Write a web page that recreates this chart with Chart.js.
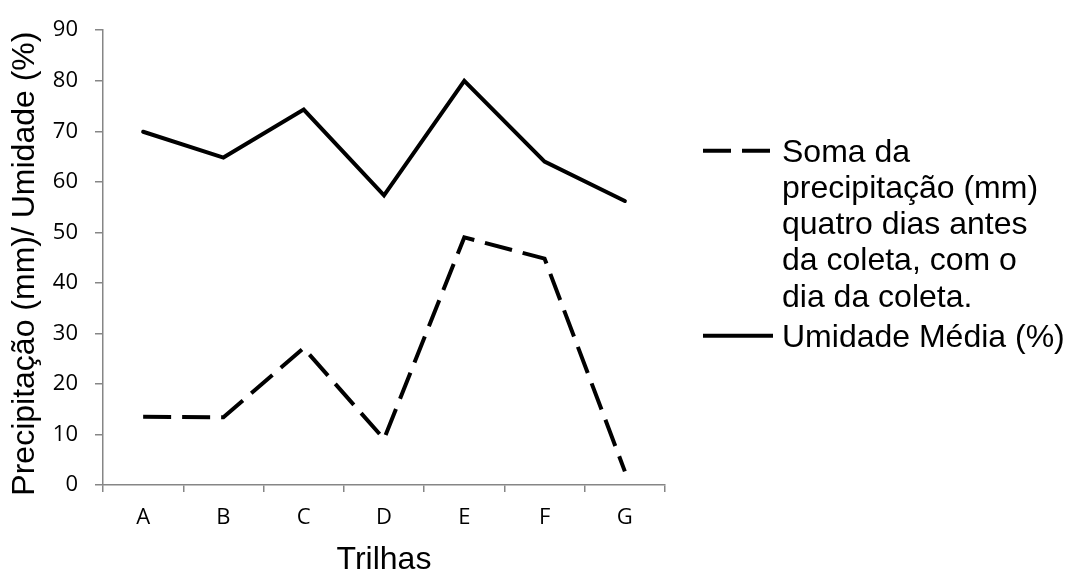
<!DOCTYPE html>
<html>
<head>
<meta charset="utf-8">
<script src="https://cdn.jsdelivr.net/npm/chart.js"></script>
<style>
  html, body { margin: 0; padding: 0; background: #fff; }
  #wrap { width: 1070px; height: 574px; }
</style>
</head>
<body>
<div id="wrap"><canvas id="grafico"></canvas></div>
<script>
const trilhas = ['A', 'B', 'C', 'D', 'E', 'F', 'G'];
const precipitacao = [13.5, 13.4, 27.1, 9.1, 49.0, 44.8, 2.7];
const umidade = [69.9, 64.8, 74.3, 57.3, 80.0, 64.0, 56.2];
const legendaPrecipitacao = ['Soma da', 'precipitação (mm)', 'quatro dias antes', 'da coleta, com o', 'dia da coleta.'];
const legendaUmidade = ['Umidade Média (%)'];
const tituloY = 'Precipitação (mm)/ Umidade (%)';

const axisGray = '#868686';
const tickFont = { family: '"Open Sans", "Noto Sans", sans-serif', size: 22 };
const titleFont = { family: '"Liberation Sans", Arial, sans-serif', size: 32, lineHeight: 0.85 };
const fontTexto = '32px "Liberation Sans", Arial, sans-serif';

// legend drawn by hand so the long label can wrap over several lines
const legendaLateral = {
  id: 'legendaLateral',
  afterDraw(chart) {
    const ctx = chart.ctx;
    const area = chart.chartArea;
    const x0 = area.right + 38;
    const textX = area.right + 117;
    const lineStep = 36.25;
    let y = area.top + 120.5;
    ctx.save();
    ctx.font = fontTexto;
    ctx.fillStyle = '#000';
    ctx.textBaseline = 'middle';
    ctx.textAlign = 'left';
    chart.data.datasets.forEach((ds) => {
      ctx.beginPath();
      ctx.strokeStyle = ds.borderColor;
      ctx.lineWidth = ds.borderWidth;
      ctx.lineCap = 'butt';
      ctx.setLineDash(ds.borderDash || []);
      ctx.moveTo(x0, y);
      ctx.lineTo(x0 + 70, y);
      ctx.stroke();
      ctx.setLineDash([]);
      ds.legendLines.forEach((txt, i) => {
        ctx.fillText(txt, textX, y + 2 + i * lineStep);
      });
      y += (ds.legendLines.length - 1) * lineStep + 40;
    });
    ctx.restore();
  }
};

// vertical axis title, sitting a little below the middle of the plot
const tituloVertical = {
  id: 'tituloVertical',
  afterDraw(chart) {
    const ctx = chart.ctx;
    const area = chart.chartArea;
    ctx.save();
    ctx.translate(25, (area.top + area.bottom) / 2 + 6);
    ctx.rotate(-Math.PI / 2);
    ctx.font = fontTexto;
    ctx.fillStyle = '#000';
    ctx.textAlign = 'center';
    ctx.textBaseline = 'middle';
    ctx.fillText(tituloY, 0, 0);
    ctx.restore();
  }
};

new Chart(document.getElementById('grafico'), {
  type: 'line',
  data: {
    labels: trilhas,
    datasets: [
      {
        label: legendaPrecipitacao.join(' '),
        legendLines: legendaPrecipitacao,
        data: precipitacao,
        borderColor: '#000',
        borderWidth: 4,
        borderDash: [28, 11],
        borderCapStyle: 'butt',
        borderJoinStyle: 'miter',
        pointRadius: 0,
        tension: 0
      },
      {
        label: legendaUmidade.join(' '),
        legendLines: legendaUmidade,
        data: umidade,
        borderColor: '#000',
        borderWidth: 4,
        borderCapStyle: 'round',
        borderJoinStyle: 'miter',
        pointRadius: 0,
        tension: 0
      }
    ]
  },
  options: {
    responsive: true,
    maintainAspectRatio: false,
    animation: false,
    layout: { padding: { top: 25, right: 405, left: 0, bottom: 0 } },
    plugins: {
      legend: { display: false },
      tooltip: { enabled: false }
    },
    scales: {
      x: {
        offset: true,
        grid: { display: true, drawOnChartArea: false, drawTicks: true, tickLength: 7, color: axisGray, lineWidth: 1.5, offset: true },
        border: { color: axisGray, width: 1.5 },
        ticks: { color: '#000', font: tickFont, padding: 13 },
        title: { display: true, text: 'Trilhas', color: '#000', font: titleFont, padding: { top: 0, bottom: 0 } },
        afterFit(scale) { scale.height = 89; }
      },
      y: {
        min: 0,
        max: 90,
        ticks: { stepSize: 10, color: '#000', font: tickFont, padding: 17 },
        grid: { display: true, drawOnChartArea: false, drawTicks: true, tickLength: 8, color: axisGray, lineWidth: 1.5 },
        border: { color: axisGray, width: 1.5 },
        title: { display: false },
        afterFit(scale) { scale.width = 103; }
      }
    }
  },
  plugins: [legendaLateral, tituloVertical]
});
</script>
</body>
</html>
